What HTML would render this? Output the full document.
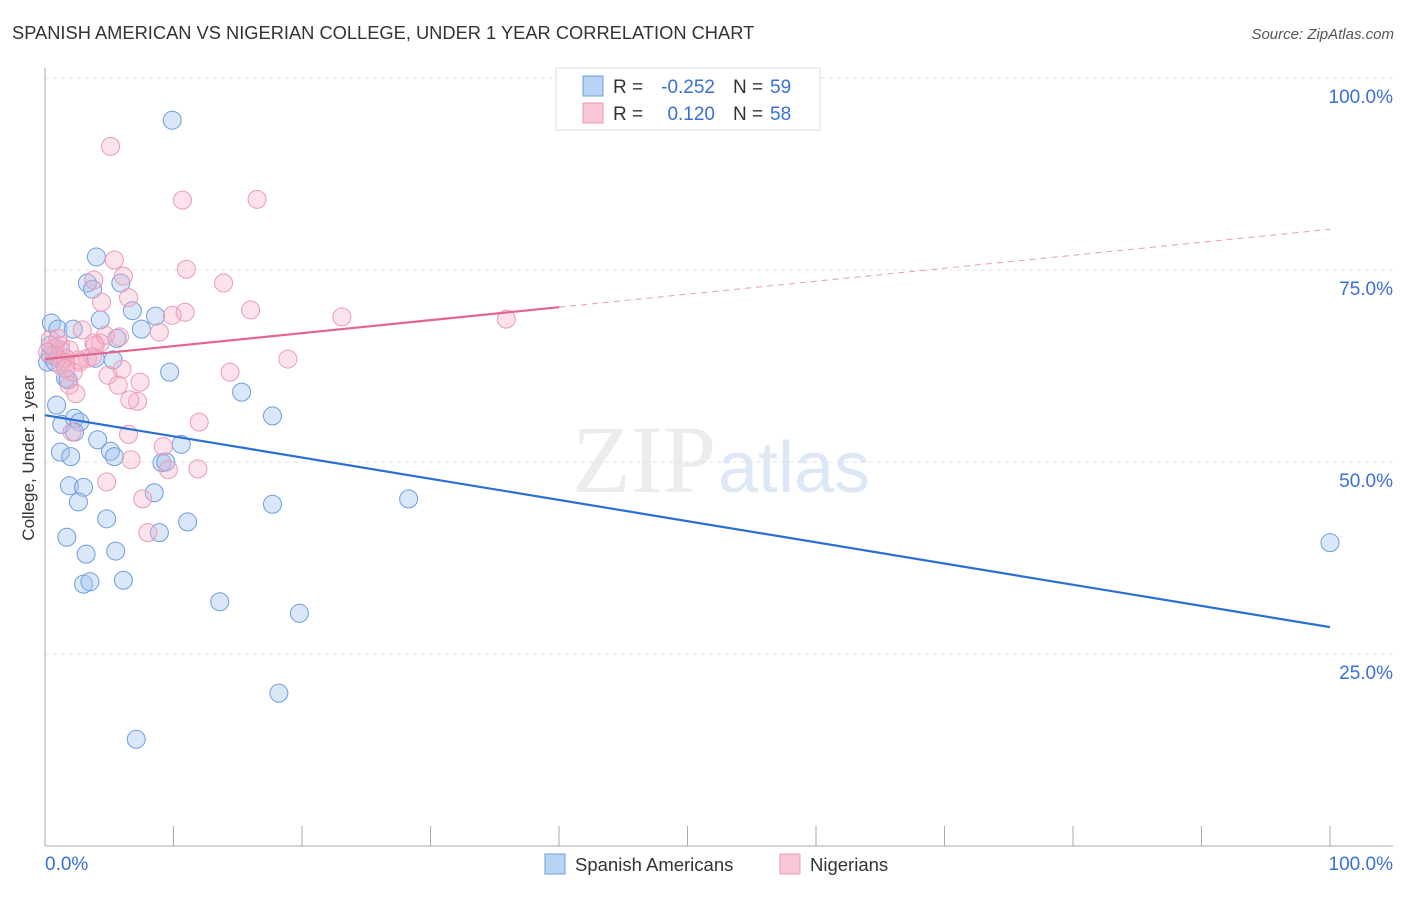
<!DOCTYPE html>
<html><head><meta charset="utf-8"><style>
body{margin:0;background:#fff;font-family:"Liberation Sans",sans-serif;}
</style></head><body>
<svg id="c" width="1406" height="892" xmlns="http://www.w3.org/2000/svg">
<text x="12" y="39" font-size="18.3" fill="#333">SPANISH AMERICAN VS NIGERIAN COLLEGE, UNDER 1 YEAR CORRELATION CHART</text>
<text x="1394" y="39" font-size="15" fill="#555" font-style="italic" text-anchor="end">Source: ZipAtlas.com</text>
<text x="716" y="492" font-size="96" fill="#ececec" text-anchor="end" font-family="Liberation Serif,serif">ZIP</text>
<text x="718" y="492" font-size="72" fill="#dde8f6">atlas</text>
<g id="grid"></g><g id="axes"></g><g id="pts"></g><g id="lines"></g>
<text x="34" y="458" font-size="17" fill="#333" text-anchor="middle" transform="rotate(-90 34 458)">College, Under 1 year</text>
<g>
<rect x="556" y="68" width="264" height="62" fill="#fff" stroke="#ddd"/>
<rect x="583" y="76" width="20" height="20" fill="#b8d3f4" stroke="#6d9de0"/>
<rect x="583" y="103" width="20" height="20" fill="#f9c7d6" stroke="#e89ab4"/>
<text x="613" y="93" font-size="19" fill="#333">R =</text>
<text x="715" y="93" font-size="19" fill="#3a6fd8" text-anchor="end">-0.252</text>
<text x="733" y="93" font-size="19" fill="#333">N =</text>
<text x="770" y="93" font-size="19" fill="#3a6fd8">59</text>
<text x="613" y="120" font-size="19" fill="#333">R =</text>
<text x="715" y="120" font-size="19" fill="#3a6fd8" text-anchor="end">0.120</text>
<text x="733" y="120" font-size="19" fill="#333">N =</text>
<text x="770" y="120" font-size="19" fill="#3a6fd8">58</text>
</g>
<g>
<rect x="545" y="854" width="20" height="20" fill="#b8d3f4" stroke="#6d9de0"/>
<text x="575" y="871" font-size="18.5" fill="#333">Spanish Americans</text>
<rect x="780" y="854" width="20" height="20" fill="#f9c7d6" stroke="#e89ab4"/>
<text x="810" y="871" font-size="18.5" fill="#333">Nigerians</text>
</g>
</svg>
<script>
const blueX=[9.9,4.0,3.3,3.7,5.9,6.8,8.6,7.5,4.3,5.6,0.5,1.0,2.2,0.4,1.0,0.2,5.3,9.7,1.6,15.3,0.9,17.7,1.3,2.3,2.7,2.3,4.1,10.6,5.1,5.4,1.2,2.0,9.1,9.4,1.9,3.0,8.5,2.6,17.7,28.3,4.8,11.1,1.7,8.9,3.2,5.5,3.0,3.5,6.1,13.6,19.8,18.2,7.1,100,0.4,1.2,0.8,3.9,1.8];
const blueY=[94.5,76.7,73.3,72.5,73.3,69.7,69.0,67.3,68.5,66.1,68.1,67.3,67.3,63.9,63.5,63.0,63.3,61.7,60.9,59.1,57.4,56.0,54.9,55.7,55.2,53.9,52.9,52.3,51.4,50.7,51.3,50.7,49.9,50.0,46.9,46.7,46.0,44.8,44.5,45.2,42.6,42.2,40.2,40.8,38.0,38.4,34.1,34.4,34.6,31.8,30.3,19.9,13.9,39.5,65.2,64.6,63.0,63.5,60.7];
const pinkX=[5.1,10.7,16.5,5.4,11.0,6.1,3.8,13.9,6.5,4.4,16.0,9.9,10.9,23.1,35.9,2.9,8.9,5.8,4.3,3.8,0.4,1.2,1.9,0.8,1.6,3.3,3.7,4.9,6.0,14.4,18.9,2.6,1.6,7.4,5.7,1.9,2.4,7.2,12.0,6.5,2.1,9.2,6.7,9.6,11.9,4.8,7.6,8.0,3.9,1.2,0.7,0.2,2.7,2.2,4.7,6.6,1.6,1.0];
const pinkY=[91.1,84.1,84.2,76.3,75.1,74.2,73.7,73.3,71.4,70.8,69.8,69.1,69.5,68.9,68.6,67.2,66.9,66.3,65.5,65.5,65.9,65.2,64.6,63.9,63.5,63.5,63.7,61.3,62.1,61.7,63.4,63.3,62.9,60.4,60.0,60.0,58.9,57.9,55.2,53.6,53.9,52.0,50.3,49.0,49.1,47.4,45.2,40.8,65.2,62.6,64.8,64.3,63.0,61.7,66.5,58.1,62.2,66.1];
const blueLine=[56.1,28.5];
const pinkLine=[63.4,80.3];
const yTicks=[100,75,50,25];
const yTickLabels=["100.0%","75.0%","50.0%","25.0%"];
const NS='http://www.w3.org/2000/svg';
const sx=v=>45+v*12.85, sy=v=>846-v*7.68;
function mk(p,t,a){const e=document.createElementNS(NS,t);for(const k in a)e.setAttribute(k,a[k]);document.getElementById(p).appendChild(e);return e;}
yTicks.forEach((t,i)=>{
 const g=mk('grid','line',{x1:45,x2:1393,y1:sy(t),y2:sy(t),stroke:'#e2e2e2','stroke-dasharray':'4 4'});
 
 
 const l=mk('grid','text',{x:1393,y:sy(t)+25,'font-size':19,fill:'#3a6fd8','text-anchor':'end'});
 l.textContent=yTickLabels[i];
 
 
});
mk('axes','line',{x1:45,x2:45,y1:68,y2:846,stroke:'#aaa'});
mk('axes','line',{x1:45,x2:1393,y1:846,y2:846,stroke:'#aaa'});
for(let i=0;i<=10;i++){const t=mk('axes','line',{x1:sx(i*10),x2:sx(i*10),y1:826,y2:846,stroke:'#aaa'});
 
 }
const x0=mk('axes','text',{x:45,y:870,'font-size':19,fill:'#3a6fd8'});x0.textContent='0.0%';


const x1=mk('axes','text',{x:1393,y:870,'font-size':19,fill:'#3a6fd8','text-anchor':'end'});x1.textContent='100.0%';


blueX.forEach((v,i)=>{const c=mk('pts','circle',{cx:sx(v),cy:sy(blueY[i]),r:9,fill:'rgba(160,196,240,0.4)',stroke:'#6d9de0','stroke-width':1});
 
 });
pinkX.forEach((v,i)=>{const c=mk('pts','circle',{cx:sx(v),cy:sy(pinkY[i]),r:9,fill:'rgba(246,176,198,0.35)',stroke:'#eb9ab6','stroke-width':1});
 
 });
const bl=mk('lines','line',{x1:sx(0),y1:sy(blueLine[0]),x2:sx(100),y2:sy(blueLine[1]),stroke:'#2a6fd6','stroke-width':2.2});


const pAt=x=>pinkLine[0]+(pinkLine[1]-pinkLine[0])*x/100;
const pl=mk('lines','line',{x1:sx(0),y1:sy(pAt(0)),x2:sx(40),y2:sy(pAt(40)),stroke:'#e5648e','stroke-width':2.2});


const pd=mk('lines','line',{x1:sx(40),y1:sy(pAt(40)),x2:sx(100),y2:sy(pAt(100)),stroke:'#e89ab4','stroke-width':1,'stroke-dasharray':'6 5'});


</script>
</body></html>
